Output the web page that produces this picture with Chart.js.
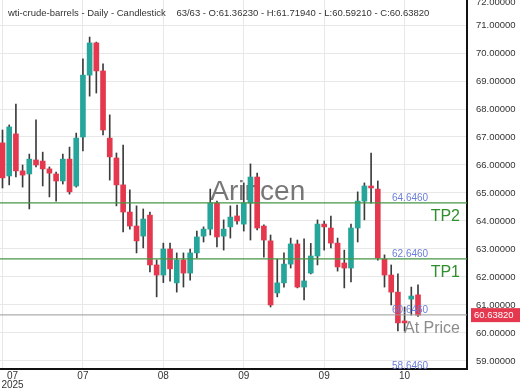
<!DOCTYPE html>
<html>
<head>
<meta charset="utf-8">
<script src="https://cdn.jsdelivr.net/npm/chart.js@4.4.1/dist/chart.umd.min.js"></script>
<style>
  html, body { margin: 0; padding: 0; background: #fff; }
  canvas { display: block; }
</style>
</head>
<body>
<canvas id="chart" width="520" height="390"></canvas>
<script>
// daily OHLC, 63 sessions
const opens  = [66.79, 65.61, 67.11, 65.79, 65.68, 66.18, 66.14, 65.86, 65.68, 65.43,
                66.21, 65.25, 67.00, 69.21, 70.36, 69.36, 66.96, 66.25, 65.29, 64.32,
                63.82, 63.46, 64.21, 62.43, 62.07, 63.00, 61.79, 62.61, 62.14, 62.86,
                63.46, 63.71, 64.64, 63.46, 63.79, 64.18, 63.89, 64.64, 65.57, 63.82,
                63.29, 61.43, 61.79, 62.46, 63.18, 61.64, 62.14, 62.75, 63.89, 63.75,
                63.21, 62.50, 62.32, 63.75, 64.71, 65.25, 65.14, 62.64, 62.07, 61.46,
                60.43, 61.21, 61.3623];
const highs  = [67.25, 67.43, 68.18, 66.00, 66.39, 67.61, 66.46, 65.93, 65.75, 66.39,
                66.64, 67.14, 69.79, 70.57, 70.39, 69.61, 67.79, 66.43, 66.71, 65.11,
                64.54, 64.43, 64.32, 62.61, 63.21, 63.21, 62.86, 62.86, 63.00, 63.64,
                63.79, 65.14, 64.71, 64.04, 64.54, 64.57, 65.36, 66.04, 65.71, 63.86,
                63.50, 62.64, 62.86, 63.39, 63.32, 63.36, 63.20, 64.04, 64.00, 64.18,
                63.39, 62.96, 63.89, 65.04, 65.36, 66.43, 65.43, 62.79, 62.43, 62.11,
                60.93, 61.64, 61.7194];
const lows   = [65.18, 65.29, 65.57, 65.21, 64.43, 65.93, 65.25, 64.86, 64.71, 65.32,
                64.96, 65.21, 66.50, 68.46, 68.57, 67.07, 65.46, 64.54, 63.61, 63.71,
                62.86, 63.04, 62.18, 61.29, 61.80, 61.85, 61.46, 61.64, 61.89, 62.68,
                63.25, 63.50, 63.07, 62.96, 63.39, 63.89, 63.64, 63.32, 63.68, 62.71,
                60.93, 61.29, 61.64, 62.32, 61.61, 61.18, 62.11, 62.43, 62.96, 63.04,
                62.21, 61.61, 61.82, 63.25, 64.04, 64.64, 62.60, 61.64, 61.00, 60.07,
                60.07, 60.64, 60.5921];
const closes = [65.54, 67.36, 65.79, 65.64, 66.21, 66.00, 65.86, 65.71, 65.43, 66.21,
                65.04, 66.96, 69.21, 70.36, 69.36, 67.25, 66.29, 65.29, 64.32, 63.82,
                63.29, 64.07, 62.43, 62.07, 63.00, 62.29, 62.61, 62.14, 62.86, 63.43,
                63.71, 64.64, 63.43, 63.71, 64.14, 64.00, 64.64, 65.57, 63.75, 63.32,
                61.00, 61.79, 62.46, 63.18, 61.64, 61.86, 62.75, 63.89, 63.79, 63.21,
                62.36, 62.32, 63.75, 64.71, 65.25, 65.18, 62.68, 62.07, 61.46, 60.36,
                60.36, 61.32, 60.6382];

// x axis ticks (candle index) and their month labels
const tickIdx = [0, 12, 24, 36, 48, 60];
const tickLabels = ['07', '07', '08', '09', '09', '10'];
const yearLabel = '2025';

// horizontal levels
const levelValues = [64.646, 62.646, 60.646, 58.646];
const levelTags = ['TP2', 'TP1', 'At Price', ''];
const lastPrice = 60.6382;
const titleText = 'wti-crude-barrels - Daily - Candlestick    63/63 - O:61.36230 - H:61.71940 - L:60.59210 - C:60.63820';
const watermark = 'Arincen';

const UP = '#26a69a';
const DOWN = '#e5384f';
const FONT = "'Liberation Sans', Arial, sans-serif";

const candleColors = closes.map((c, i) => c >= opens[i] ? UP : DOWN);
const bodies = closes.map((c, i) => ({ x: i, y: [opens[i], c] }));
const wicks = closes.map((c, i) => ({ x: i, y: [lows[i], highs[i]] }));

const overlay = {
    id: 'overlay',
    beforeDatasetsDraw(chart) {
        const { ctx, chartArea } = chart;
        ctx.save();
        ctx.font = '28px ' + FONT;
        ctx.fillStyle = 'rgba(95,95,95,0.85)';
        ctx.textAlign = 'center';
        ctx.textBaseline = 'middle';
        ctx.fillText(watermark, chartArea.left + chartArea.width * 0.552, chartArea.top + chartArea.height * 0.52);
        ctx.restore();
    },
    afterDatasetsDraw(chart) {
        const { ctx, chartArea, scales } = chart;
        const y = scales.y;
        ctx.save();
        // level lines
        levelValues.forEach((v, i) => {
            const py = y.getPixelForValue(v);
            if (py > chartArea.bottom) return;
            ctx.strokeStyle = levelTags[i] === 'At Price' ? '#9a9a9a' : 'rgb(70,150,70)';
            ctx.lineWidth = levelTags[i] === 'At Price' ? 1 : 1.4;
            ctx.beginPath();
            ctx.moveTo(chartArea.left, py);
            ctx.lineTo(chartArea.right, py);
            ctx.stroke();
        });
        // level texts
        levelValues.forEach((v, i) => {
            const py = y.getPixelForValue(v);
            ctx.font = '10px ' + FONT;
            ctx.fillStyle = '#6b7fd8';
            ctx.textAlign = 'left';
            ctx.textBaseline = 'middle';
            ctx.fillText(v.toFixed(4), chartArea.right - 75, Math.min(py - 5, chartArea.bottom - 3));
            if (levelTags[i]) {
                ctx.font = '16px ' + FONT;
                ctx.fillStyle = levelTags[i] === 'At Price' ? '#8c8c8c' : '#2f8f2f';
                ctx.textAlign = 'right';
                ctx.fillText(levelTags[i], chartArea.right - 7, py + 14);
            }
        });
        ctx.restore();
    },
    afterDraw(chart) {
        const { ctx, chartArea, scales } = chart;
        ctx.save();
        // title
        ctx.font = '9.5px ' + FONT;
        ctx.fillStyle = '#333';
        ctx.textAlign = 'left';
        ctx.textBaseline = 'middle';
        ctx.fillText(titleText, 8, 13);
        // partly hidden top label
        ctx.fillText('72.00000', chartArea.right + 9, 2);
        // first x label with year
        ctx.font = '10px ' + FONT;
        const x0 = scales.x.getPixelForValue(tickIdx[0]) + 10;
        ctx.textAlign = 'center';
        ctx.fillText(tickLabels[0], x0, chartArea.bottom + 7);
        ctx.fillText(yearLabel, x0, chartArea.bottom + 16);
        // last price box
        ctx.font = '9.5px ' + FONT;
        const py = scales.y.getPixelForValue(lastPrice);
        ctx.fillStyle = DOWN;
        ctx.fillRect(chartArea.right + 4, py - 7, chart.width - chartArea.right - 4, 14);
        ctx.fillStyle = '#fff';
        ctx.textAlign = 'left';
        ctx.fillText(lastPrice.toFixed(5), chartArea.right + 7, py);
        ctx.restore();
    }
};

new Chart(document.getElementById('chart'), {
    type: 'bar',
    data: {
        datasets: [
            {
                data: bodies,
                backgroundColor: candleColors,
                barThickness: 5,
                minBarLength: 1,
                grouped: false,
                order: 0
            },
            {
                data: wicks,
                backgroundColor: '#3c3c3c',
                barThickness: 1,
                grouped: false,
                order: 1
            }
        ]
    },
    options: {
        responsive: false,
        animation: false,
        layout: { padding: 0 },
        plugins: {
            legend: { display: false },
            tooltip: { enabled: false },
            title: { display: false }
        },
        scales: {
            x: {
                type: 'linear',
                min: -0.373,
                max: 69.31,
                offset: false,
                grid: { color: '#e8e8e8', drawTicks: false, offset: false },
                border: { color: '#111', width: 2 },
                afterBuildTicks: s => { s.ticks = tickIdx.map(v => ({ value: v })); },
                ticks: {
                    autoSkip: false,
                    maxRotation: 0,
                    padding: 1,
                    color: '#333',
                    font: { size: 10, family: FONT },
                    callback: (v, i) => i === 0 ? '' : tickLabels[i]
                },
                afterFit: s => {
                    s.height = 21;
                    s.paddingLeft = 0; s.paddingRight = 0;
                }
            },
            y: {
                position: 'right',
                min: 58.714,
                max: 71.893,
                grid: { color: '#e8e8e8', drawTicks: false },
                border: { color: '#111', width: 2 },
                ticks: {
                    stepSize: 1,
                    includeBounds: false,
                    padding: 9,
                    color: '#333',
                    font: { size: 9.5, family: FONT },
                    callback: v => v.toFixed(5)
                },
                afterFit: s => {
                    s.width = 53;
                    s.paddingTop = 0; s.paddingBottom = 0;
                }
            }
        }
    },
    plugins: [overlay]
});
</script>
</body>
</html>
